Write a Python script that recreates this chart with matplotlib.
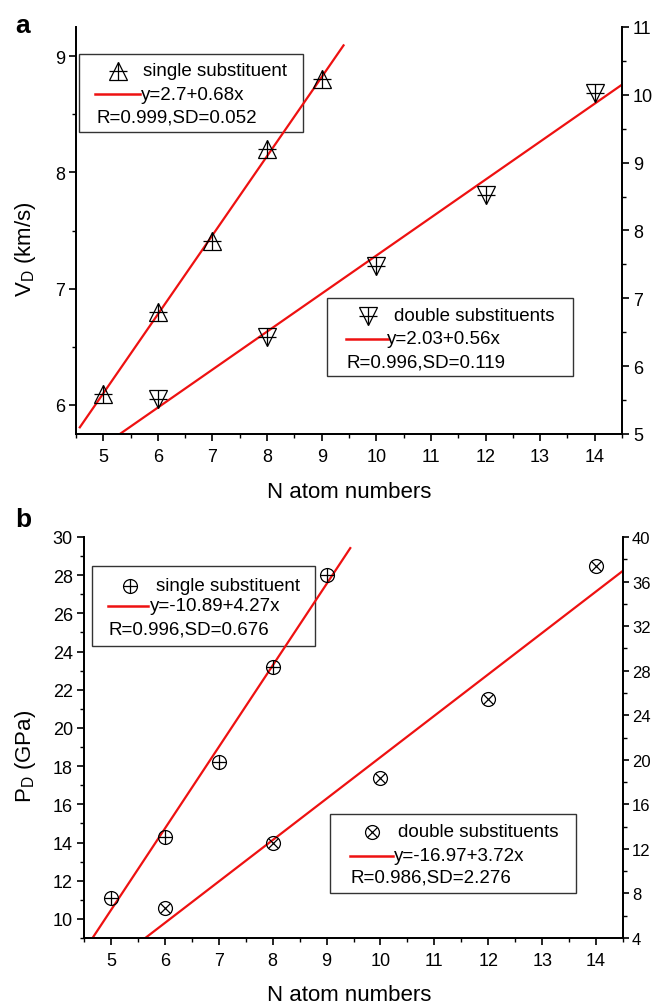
import matplotlib
matplotlib.use("Agg")
import matplotlib.pyplot as plt
import matplotlib.transforms as mtransforms
from matplotlib.lines import Line2D
from matplotlib.patches import Rectangle
from matplotlib.ticker import MultipleLocator
import numpy as np

plt.rcParams['font.family'] = ['Liberation Sans', 'DejaVu Sans']
plt.rcParams['mathtext.fontset'] = 'custom'
plt.rcParams['mathtext.rm'] = 'Liberation Sans'
plt.rcParams['mathtext.it'] = 'Liberation Sans'

# ---------------- data ----------------
x_single = [5, 6, 7, 8, 9]
x_double = [6, 8, 10, 12, 14]

vd_single = [6.09, 6.80, 7.41, 8.20, 8.80]
vd_double = [5.52, 6.43, 7.48, 8.52, 10.02]
pd_single = [11.1, 14.3, 18.2, 23.2, 28.0]
pd_double = [6.7, 12.55, 18.4, 25.5, 37.4]

fit_vd_single = (2.7, 0.68)
fit_vd_double = (2.03, 0.56)
fit_pd_single = (-10.89, 4.27)
fit_pd_double = (-16.97, 3.72)

legend_texts_a = [["single substituent", "y=2.7+0.68x", "R=0.999,SD=0.052"],
                  ["double substituents", "y=2.03+0.56x", "R=0.996,SD=0.119"]]
legend_texts_b = [["single substituent", "y=-10.89+4.27x", "R=0.996,SD=0.676"],
                  ["double substituents", "y=-16.97+3.72x", "R=0.986,SD=2.276"]]

W, H = 652, 1004
fig = plt.figure(figsize=(W / 100, H / 100), dpi=100)
T = mtransforms.Affine2D().scale(1 / W, -1 / H).translate(0, 1) + fig.transFigure

RED = '#ee1111'
TICK_FS = 13
LAB_FS = 16
LEG_FS = 13.5


def make_axes(l, r, t, b):
    ax = fig.add_axes([l / W, 1 - b / H, (r - l) / W, (b - t) / H])
    ax2 = ax.twinx()
    for a in (ax, ax2):
        a.spines['top'].set_visible(False)
        for s in ('left', 'right', 'bottom'):
            a.spines[s].set_linewidth(1.3)
        a.tick_params(which='major', direction='out', length=5, width=1.2,
                      labelsize=TICK_FS, pad=3)
        a.tick_params(which='minor', direction='out', length=3, width=1.0)
    ax.tick_params(axis='x', pad=5)
    ax.set_xlim(4.5, 14.5)
    ax.xaxis.set_major_locator(MultipleLocator(1))
    ax.xaxis.set_minor_locator(MultipleLocator(0.5))
    return ax, ax2


def plot_marker(ax, x, y, kind, ms):
    if kind == 'up':
        ax.plot(x, y, ls='none', marker='^', ms=ms, mfc='none', mec='k', mew=0.9)
        ax.plot(x, y, ls='none', marker='+', ms=ms * 1.05, mec='k', mew=0.9)
    elif kind == 'down':
        ax.plot(x, y, ls='none', marker='v', ms=ms, mfc='none', mec='k', mew=0.9)
        ax.plot(x, y, ls='none', marker='+', ms=ms * 1.05, mec='k', mew=0.9)
    elif kind == 'oplus':
        ax.plot(x, y, ls='none', marker='o', ms=ms, mfc='none', mec='k', mew=0.9)
        ax.plot(x, y, ls='none', marker='+', ms=ms, mec='k', mew=0.9)
    elif kind == 'otimes':
        ax.plot(x, y, ls='none', marker='o', ms=ms, mfc='none', mec='k', mew=0.9)
        ax.plot(x, y, ls='none', marker='x', ms=ms * 0.7, mec='k', mew=0.9)


def fit_line(ax, coef, x0, x1):
    xs = np.array([x0, x1])
    ax.plot(xs, coef[0] + coef[1] * xs, color=RED, lw=1.6, zorder=1)


def legend_box(box, mpos, lpos, tx1, tx2, row3, texts, kind, ms):
    x0, y0, x1, y1 = box
    fig.add_artist(Rectangle((x0, y1), x1 - x0, y0 - y1, transform=T,
                             fill=True, facecolor='white', edgecolor='#333333', lw=1.0))
    mk = {'up': ['^', '+'], 'down': ['v', '+'], 'oplus': ['o', '+'], 'otimes': ['o', 'x']}[kind]
    fig.add_artist(Line2D([mpos[0]], [mpos[1]], transform=T, marker=mk[0], ms=ms,
                          mfc='none', mec='k', mew=0.9, ls='none'))
    fig.add_artist(Line2D([mpos[0]], [mpos[1]], transform=T, marker=mk[1],
                          ms=ms * (0.7 if mk[1] == 'x' else 1.0), mec='k', mew=0.9, ls='none'))
    fig.text(tx1, mpos[1], texts[0], transform=T, fontsize=LEG_FS, va='center', ha='left')
    fig.add_artist(Line2D([lpos[0], lpos[1]], [lpos[2], lpos[2]], transform=T,
                          color=RED, lw=1.8))
    fig.text(tx2, lpos[2], texts[1], transform=T, fontsize=LEG_FS, va='center', ha='left')
    fig.text(row3[0], row3[1], texts[2], transform=T, fontsize=LEG_FS, va='center', ha='left')


# ---------------- panel a ----------------
axa, axa2 = make_axes(76, 622, 28, 435)
axa.set_ylim(5.75, 9.25)
axa.yaxis.set_major_locator(MultipleLocator(1))
axa.yaxis.set_minor_locator(MultipleLocator(0.5))
axa2.set_ylim(5, 11)
axa2.yaxis.set_major_locator(MultipleLocator(1))
axa2.yaxis.set_minor_locator(MultipleLocator(0.5))

fit_line(axa, fit_vd_single, 4.57, 9.4)
fit_line(axa2, fit_vd_double, 5.0, 14.5)
plot_marker(axa, x_single, vd_single, 'up', 13)
plot_marker(axa2, x_double, vd_double, 'down', 13)
axa.set_zorder(axa2.get_zorder() + 1)
axa.patch.set_visible(False)

legend_box((79, 55, 303, 133), (118, 72), (95, 140, 95), 143, 141, (96, 118),
           legend_texts_a[0], 'up', 13)
legend_box((327, 299, 573, 377), (368, 317), (346, 388, 340), 394, 387, (346, 363),
           legend_texts_a[1], 'down', 13)

fig.text(349, 498, "N atom numbers", transform=T, fontsize=LAB_FS, ha='center', va='baseline')
fig.text(25, 249, r"V$_\mathregular{D}$ (km/s)", transform=T, fontsize=LAB_FS,
         rotation=90, ha='center', va='center')
fig.text(15, 33, "a", transform=T, fontsize=19, fontweight='bold', ha='left', va='baseline')

# ---------------- panel b ----------------
axb, axb2 = make_axes(84, 623, 538, 939)
axb.set_ylim(9, 30)
axb.yaxis.set_major_locator(MultipleLocator(2))
axb.yaxis.set_minor_locator(MultipleLocator(1))
axb2.set_ylim(4, 40)
axb2.yaxis.set_major_locator(MultipleLocator(4))
axb2.yaxis.set_minor_locator(MultipleLocator(2))
axb2.tick_params(axis='y', which='major', labelsize=12, pad=2, length=4.5)

fit_line(axb, fit_pd_single, 4.6, 9.44)
fit_line(axb2, fit_pd_double, 5.5, 14.5)
plot_marker(axb, x_single, pd_single, 'oplus', 10)
plot_marker(axb2, x_double, pd_double, 'otimes', 10)
axb.set_zorder(axb2.get_zorder() + 1)
axb.patch.set_visible(False)

legend_box((92, 567, 315, 647), (130, 587), (108, 148, 607), 156, 150, (108, 630),
           legend_texts_b[0], 'oplus', 10)
legend_box((330, 815, 576, 894), (372, 833), (350, 393, 857), 398, 394, (350, 878),
           legend_texts_b[1], 'otimes', 10)

fig.text(349, 1001, "N atom numbers", transform=T, fontsize=LAB_FS, ha='center', va='baseline')
fig.text(25, 756, r"P$_\mathregular{D}$ (GPa)", transform=T, fontsize=LAB_FS,
         rotation=90, ha='center', va='center')
fig.text(15, 527, "b", transform=T, fontsize=19, fontweight='bold', ha='left', va='baseline')

fig.savefig("out.png", dpi=100)
